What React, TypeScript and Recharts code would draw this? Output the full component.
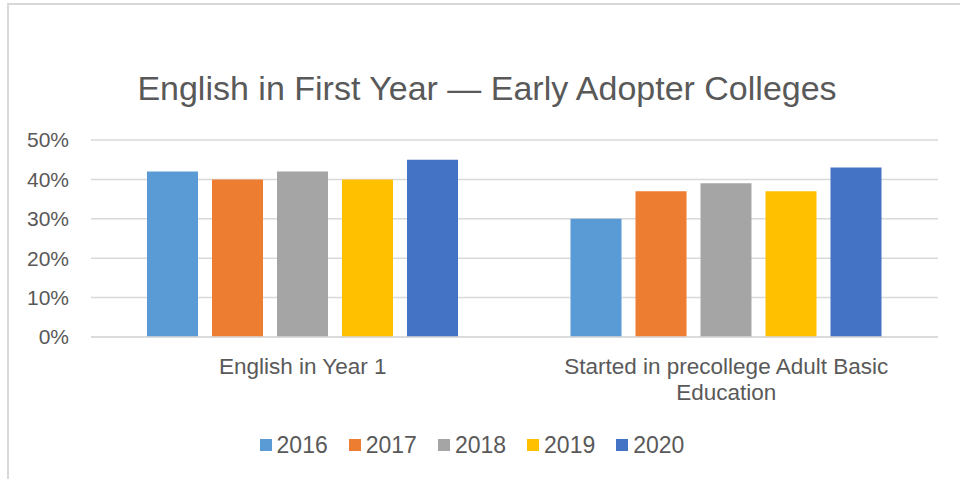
import { BarChart, Bar, XAxis, YAxis, CartesianGrid } from 'recharts';

const categories = ['English in Year 1', 'Started in precollege Adult Basic Education'];
const years = ['2016', '2017', '2018', '2019', '2020'];
const values2016 = [42, 30];
const values2017 = [40, 37];
const values2018 = [42, 39];
const values2019 = [40, 37];
const values2020 = [45, 43];
const yTicks = [0, 10, 20, 30, 40, 50];

const COLORS: Record<string, string> = {
  '2016': '#5B9BD5',
  '2017': '#ED7D31',
  '2018': '#A5A5A5',
  '2019': '#FFC000',
  '2020': '#4472C4',
};

const FONT = '"Liberation Sans", Arial, sans-serif';
const TEXT_COLOR = '#595959';

const seriesValues: Record<string, number[]> = {
  '2016': values2016,
  '2017': values2017,
  '2018': values2018,
  '2019': values2019,
  '2020': values2020,
};

const chartData = categories.map((name, i) => {
  const row: Record<string, string | number> = { name };
  years.forEach((y) => {
    row[y] = seriesValues[y][i];
  });
  return row;
});

// crude word wrap, the long label breaks after "Basic" like excel does
function wrapLabel(label: string, maxChars = 34) {
  const lines: string[] = [];
  let cur = '';
  label.split(' ').forEach((w) => {
    const next = cur ? `${cur} ${w}` : w;
    if (next.length > maxChars && cur) {
      lines.push(cur);
      cur = w;
    } else {
      cur = next;
    }
  });
  if (cur) lines.push(cur);
  return lines;
}

const CategoryTick = ({ x, y, payload }: { x?: number; y?: number; payload?: { value: string } }) => {
  const lines = wrapLabel(payload?.value ?? '');
  return (
    <text
      x={x}
      y={(y ?? 0) + 29}
      textAnchor="middle"
      fill={TEXT_COLOR}
      style={{ fontFamily: FONT, fontSize: 22.5 }}
    >
      {lines.map((line, i) => (
        <tspan key={i} x={x} dy={i === 0 ? 0 : 26}>
          {line}
        </tspan>
      ))}
    </text>
  );
};

export default function App() {
  return (
    <div
      style={{
        position: 'absolute',
        left: 0,
        top: 0,
        width: 960,
        height: 479,
        overflow: 'hidden',
        background: '#fff',
        fontFamily: FONT,
      }}
    >
      <div
        style={{
          position: 'absolute',
          left: 7,
          top: 3,
          width: 1100,
          height: 700,
          borderLeft: '2px solid #d9d9d9',
          borderTop: '2px solid #d9d9d9',
        }}
      />
      <div
        style={{
          position: 'absolute',
          left: 0,
          top: 71,
          width: 974,
          textAlign: 'center',
          fontSize: 34,
          lineHeight: '34px',
          color: TEXT_COLOR,
        }}
      >
        English in First Year — Early Adopter Colleges
      </div>
      <div style={{ position: 'absolute', left: 0, top: 0 }}>
        <BarChart
          width={960}
          height={479}
          data={chartData}
          margin={{ top: 140, right: 22, bottom: 112, left: 0 }}
          barCategoryGap={56}
          barGap={14}
        >
          <CartesianGrid horizontal vertical={false} stroke="#d9d9d9" strokeWidth={1.5} />
          <XAxis
            dataKey="name"
            height={30}
            axisLine={{ stroke: '#d9d9d9', strokeWidth: 1.5 }}
            tickLine={false}
            tick={<CategoryTick />}
            interval={0}
          />
          <YAxis
            width={91}
            domain={[0, 50]}
            ticks={yTicks}
            axisLine={false}
            tickLine={false}
            tickMargin={16}
            tickFormatter={(v: number) => `${v}%`}
            tick={{ fill: TEXT_COLOR, fontSize: 21, fontFamily: FONT }}
          />
          {years.map((y) => (
            <Bar key={y} dataKey={y} fill={COLORS[y]} isAnimationActive={false} />
          ))}
        </BarChart>
      </div>
      <div
        style={{
          position: 'absolute',
          left: 0,
          top: 432,
          width: 944,
          display: 'flex',
          justifyContent: 'center',
          alignItems: 'center',
          gap: 21,
          fontSize: 23,
          lineHeight: '26px',
          color: TEXT_COLOR,
        }}
      >
        {years.map((y) => (
          <span key={y} style={{ display: 'flex', alignItems: 'center', gap: 5 }}>
            <span style={{ width: 12, height: 12, background: COLORS[y], display: 'inline-block' }} />
            {y}
          </span>
        ))}
      </div>
    </div>
  );
}
